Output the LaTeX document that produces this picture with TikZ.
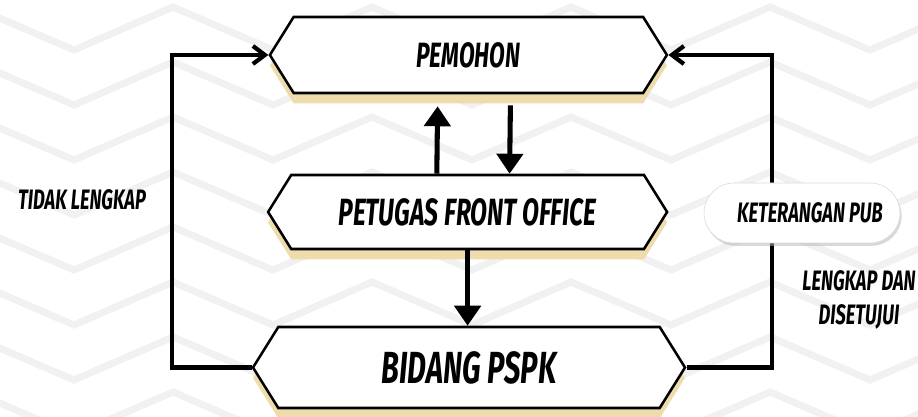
\documentclass[tikz,border=0pt]{standalone}
\usepackage{fontspec}
\newfontfamily\flowfont[FakeStretch=0.65]{Fira Sans}
\usetikzlibrary{shapes.symbols,shadows,arrows.meta}
\definecolor{tanshade}{RGB}{238,220,172}
\definecolor{bggray}{RGB}{241,241,241}
\tikzset{
  hexbox/.style={shape=signal, signal to=west and east, signal pointer angle=116,
    draw=black, line width=1.8pt, fill=white, inner sep=0pt,
    font=\flowfont\bfseries\itshape,
    drop shadow={shadow xshift=0cm, shadow yshift=-0.26cm, fill=tanshade, opacity=1}},
  pillbox/.style={rounded corners=0.75cm, draw=black!15, line width=0.4pt, fill=white,
    minimum width=4.9cm, minimum height=1.5cm, inner sep=0pt,
    font=\flowfont\bfseries\itshape\fontsize{20}{22}\selectfont,
    drop shadow={shadow xshift=0.04cm, shadow yshift=-0.07cm, fill=black!30, opacity=0.5}},
  flowlabel/.style={font=\flowfont\bfseries\itshape\fontsize{20}{24}\selectfont, align=center},
  loopline/.style={line width=3pt},
  midarrow/.style={line width=3.6pt, -{Triangle[length=0.5cm,width=0.65cm]}},
  bgline/.style={bggray, line width=5pt}
}
\begin{document}
\begin{tikzpicture}[x=1cm,y=1cm]
\useasboundingbox (0,0) rectangle (22.95,10.425);
% background chevrons
\begin{scope}
\clip (0,0) rectangle (22.95,10.425);
\foreach \k in {0,...,7}{
  \draw[bgline] (-0.65,{10.25-1.375*\k})
    \foreach \j in {0,...,4}{ -- ({1.85+4.975*\j},{9.175-1.375*\k}) -- ({4.325+4.975*\j},{10.25-1.375*\k}) };
}
\end{scope}

\node[hexbox, minimum width=9.925cm, minimum height=1.9cm, font=\flowfont\bfseries\itshape\fontsize{25}{27}\selectfont] (pemohon) at (11.71,9.05) {PEMOHON};
\node[hexbox, minimum width=9.975cm, minimum height=1.85cm, font=\flowfont\bfseries\itshape\fontsize{27}{29}\selectfont] (petugas) at (11.69,5.125) {PETUGAS FRONT OFFICE};
\node[hexbox, minimum width=10.8cm, minimum height=2.025cm, font=\flowfont\bfseries\itshape\fontsize{32}{34}\selectfont] (bidang) at (11.725,1.2375) {BIDANG PSPK};

% middle arrows
\draw[midarrow] ([xshift=-0.77cm]petugas.north) -- ([xshift=-0.77cm,yshift=-0.3cm]pemohon.south);
\draw[midarrow] ([xshift=1.05cm,yshift=-0.28cm]pemohon.south) -- ([xshift=1.05cm]petugas.north);
\draw[midarrow] (petugas.south) -- (petugas.south |- bidang.north);

% return lines
\coordinate (leftbend) at (4.3,5);
\coordinate (rightbend) at (19.3,5);
\draw[loopline, -{Straight Barb[length=0.3cm,width=0.45cm]}] (bidang.west) -| (leftbend) |- (pemohon.west);
\draw[loopline, -{Straight Barb[length=0.3cm,width=0.45cm]}] (bidang.east) -| (rightbend) |- (pemohon.east);

\node[pillbox] (pub) at (20.05,5.1) {\hspace*{0.4cm}KETERANGAN PUB};
\node[flowlabel] (tidak) at (2.05,5.425) {TIDAK LENGKAP};
\node[flowlabel] (lengkap) at (21.475,2.925) {LENGKAP DAN\\DISETUJUI};
\end{tikzpicture}
\end{document}
